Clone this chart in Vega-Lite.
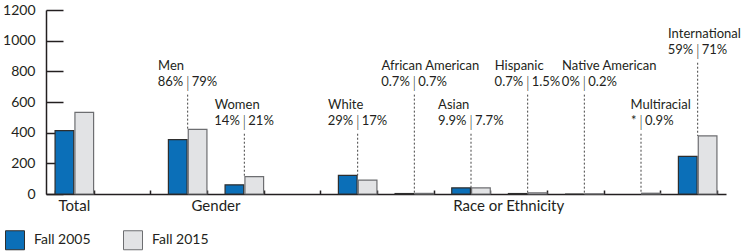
{
  "$schema": "https://vega.github.io/schema/vega-lite/v6.json",
  "autosize": "none",
  "width": 680,
  "height": 184,
  "padding": {"left": 46, "top": 10, "right": 18, "bottom": 58},
  "config": {
    "view": {"stroke": null},
    "font": "Lato",
    "text": {"font": "Lato", "color": "#231f20"},
    "axis": {"labelFont": "Lato", "labelColor": "#231f20", "domainColor": "#231f20", "tickColor": "#231f20", "domainWidth": 1.5, "tickWidth": 1.5},
    "axisY": {"tickCount": 7, "format": "d", "labelOverlap": false, "grid": false, "tickSize": -17, "labelFontSize": 14, "labelPadding": 28, "domain": true, "title": null}
  },
  "data": {
    "values": [
      {"cat": "Total", "name": null, "Fall 2005": 413, "Fall 2015": 532, "p05": null, "p15": null, "anchor": null},
      {"cat": "Men", "name": "Men", "Fall 2005": 354, "Fall 2015": 421, "p05": "86%", "p15": "79%", "anchor": 648},
      {"cat": "Women", "name": "Women", "Fall 2005": 60, "Fall 2015": 113, "p05": "14%", "p15": "21%", "anchor": 393},
      {"cat": "White", "name": "White", "Fall 2005": 121, "Fall 2015": 91, "p05": "29%", "p15": "17%", "anchor": 393},
      {"cat": "African American", "name": "African American", "Fall 2005": 3, "Fall 2015": 4, "p05": "0.7%", "p15": "0.7%", "anchor": 648},
      {"cat": "Asian", "name": "Asian", "Fall 2005": 40, "Fall 2015": 40, "p05": "9.9%", "p15": "7.7%", "anchor": 393},
      {"cat": "Hispanic", "name": "Hispanic", "Fall 2005": 3, "Fall 2015": 8, "p05": "0.7%", "p15": "1.5%", "anchor": 648},
      {"cat": "Native American", "name": "Native American", "Fall 2005": 0, "Fall 2015": 1, "p05": "0%", "p15": "0.2%", "anchor": 648},
      {"cat": "Multiracial", "name": "Multiracial", "Fall 2005": null, "Fall 2015": 5, "p05": "*", "p15": "0.9%", "anchor": 393},
      {"cat": "International", "name": "International", "Fall 2005": 245, "Fall 2015": 379, "p05": "59%", "p15": "71%", "anchor": 856}
    ]
  },
  "encoding": {
    "x": {
      "field": "cat", "type": "nominal", "title": null,
      "scale": {"domain": ["Total", "gap1", "Men", "Women", "gap2", "White", "African American", "Asian", "Hispanic", "Native American", "Multiracial", "International"], "paddingInner": 0.32, "paddingOuter": 0.16},
      "axis": {"labels": false, "ticks": true, "tickBand": "extent", "tickSize": -4, "domain": true}
    }
  },
  "layer": [
    {
      "transform": [{"fold": ["Fall 2005", "Fall 2015"], "as": ["series", "value"]}, {"filter": "datum.value != null"}],
      "mark": {"type": "bar", "strokeWidth": 1.2},
      "encoding": {
        "xOffset": {"field": "series", "type": "nominal", "scale": {"paddingInner": 0.06}},
        "y": {
          "field": "value", "type": "quantitative", "title": null,
          "scale": {"domain": [0, 1200], "nice": false},
          "axis": {"values": [0, 200, 400, 600, 800, 1000, 1200]}
        },
        "fill": {
          "field": "series", "type": "nominal",
          "scale": {"domain": ["Fall 2005", "Fall 2015"], "range": ["#0b6fb8", "#e2e3e5"]},
          "legend": {"orient": "none", "legendX": -41, "legendY": 220, "direction": "horizontal", "title": null, "symbolType": "square", "symbolSize": 361, "symbolStrokeWidth": 1, "symbolOpacity": 1, "labelFontSize": 14, "labelOffset": 9, "columnPadding": 30, "padding": 0, "labelFont": "Lato", "labelColor": "#231f20"}
        },
        "stroke": {
          "field": "series", "type": "nominal",
          "scale": {"domain": ["Fall 2005", "Fall 2015"], "range": ["#2e2e2e", "#6d6e71"]},
          "legend": null
        }
      }
    },
    {
      "transform": [
        {"filter": "datum.anchor != null"},
        {"fold": ["Fall 2005", "Fall 2015"], "as": ["series", "value"]},
        {"aggregate": [{"op": "max", "field": "value", "as": "top"}], "groupby": ["cat", "anchor"]}
      ],
      "mark": {"type": "rule", "strokeDash": [2, 2], "color": "#444", "strokeWidth": 1},
      "encoding": {
        "y": {"field": "anchor", "type": "quantitative", "axis": {"values": [0, 200, 400, 600, 800, 1000, 1200]}},
        "y2": {"field": "top"}
      }
    },
    {
      "transform": [{"filter": "datum.anchor != null"}],
      "mark": {"type": "text", "align": "right", "baseline": "alphabetic", "dx": -4.5, "dy": -9, "fontSize": 13},
      "encoding": {"y": {"field": "anchor", "type": "quantitative", "axis": {"values": [0, 200, 400, 600, 800, 1000, 1200]}}, "text": {"field": "p05"}}
    },
    {
      "transform": [{"filter": "datum.anchor != null"}],
      "mark": {"type": "text", "align": "center", "baseline": "alphabetic", "dy": -7, "fontSize": 15, "fontWeight": 300},
      "encoding": {"y": {"field": "anchor", "type": "quantitative", "axis": {"values": [0, 200, 400, 600, 800, 1000, 1200]}}, "text": {"value": "|"}}
    },
    {
      "transform": [{"filter": "datum.anchor != null"}],
      "mark": {"type": "text", "align": "left", "baseline": "alphabetic", "dx": 4, "dy": -9, "fontSize": 13},
      "encoding": {"y": {"field": "anchor", "type": "quantitative", "axis": {"values": [0, 200, 400, 600, 800, 1000, 1200]}}, "text": {"field": "p15"}}
    },
    {
      "transform": [{"filter": "datum.anchor != null"}],
      "mark": {
        "type": "text", "align": "left", "baseline": "alphabetic", "dy": -25, "fontSize": 13,
        "dx": {"expr": "-(4.5 + 7.3*length(replace(datum.p05, /[^0-9]/g, '')) + 3.3*length(replace(datum.p05, /[^.]/g, '')) + 10.5*length(replace(datum.p05, /[^%]/g, '')) + 6*length(replace(datum.p05, /[^*]/g, '')))"}
      },
      "encoding": {"y": {"field": "anchor", "type": "quantitative", "axis": {"values": [0, 200, 400, 600, 800, 1000, 1200]}}, "text": {"field": "name"}}
    },
    {
      "data": {"values": [{"group": "Total", "at": "Total"}]},
      "mark": {"type": "text", "align": "center", "baseline": "alphabetic", "dy": 17, "fontSize": 15},
      "encoding": {"x": {"field": "at", "type": "nominal"}, "y": {"datum": 0, "axis": {"values": [0, 200, 400, 600, 800, 1000, 1200]}}, "text": {"field": "group"}}
    },
    {
      "data": {"values": [{"group": "Gender", "at": "Men"}]},
      "mark": {"type": "text", "align": "center", "baseline": "alphabetic", "dx": 28.3, "dy": 17, "fontSize": 15},
      "encoding": {"x": {"field": "at", "type": "nominal"}, "y": {"datum": 0, "axis": {"values": [0, 200, 400, 600, 800, 1000, 1200]}}, "text": {"field": "group"}}
    },
    {
      "data": {"values": [{"group": "Race or Ethnicity", "at": "Hispanic"}]},
      "mark": {"type": "text", "align": "center", "baseline": "alphabetic", "dx": -19, "dy": 17, "fontSize": 15},
      "encoding": {"x": {"field": "at", "type": "nominal"}, "y": {"datum": 0, "axis": {"values": [0, 200, 400, 600, 800, 1000, 1200]}}, "text": {"field": "group"}}
    }
  ]
}
